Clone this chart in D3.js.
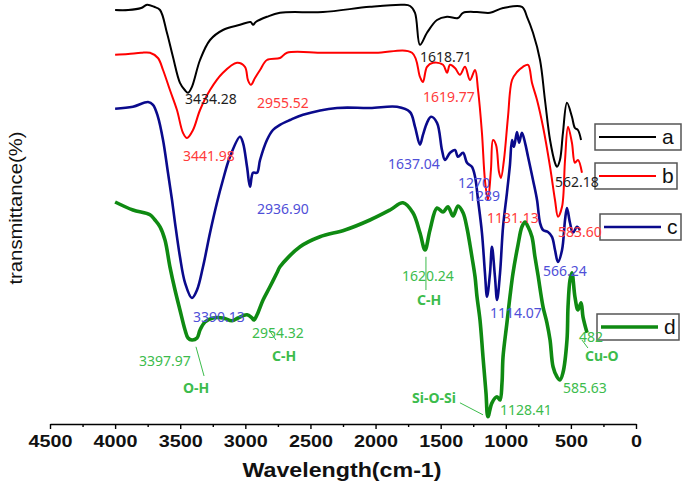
<!DOCTYPE html>
<html>
<head>
<meta charset="utf-8">
<script src="https://cdn.jsdelivr.net/npm/d3@7"></script>
<style>
  html, body { margin: 0; padding: 0; background: #fff; }
  svg { display: block; }
  .tick text { font-family: "Liberation Sans", Arial, sans-serif; font-size: 16px; font-weight: bold; fill: #111; }
  .axis path, .axis line { stroke: #000; stroke-width: 1.4px; }
  .peak { font-family: "Noto Sans", sans-serif; font-size: 14px; }
  .legend rect { fill: none; stroke: #555; stroke-width: 1.5px; }
  .legend text { font-family: "Liberation Sans", Arial, sans-serif; font-size: 21px; fill: #111; }
</style>
</head>
<body>
<svg id="chart" width="685" height="482"></svg>
<script>
// ---------- data: [wavenumber (cm-1), transmittance (a.u.)] ----------
const seriesNames = ["a", "b", "c", "d"];

const specA = [
  [4000,107.5],[3900,107.5],[3800,108],[3755,108.8],[3700,108.3],[3655,107.5],[3602,101.8],
  [3556,95.8],[3502,89.3],[3465,87.5],[3440,86.8],[3410,88.3],[3348,95],[3271,100],[3172,102.5],
  [3041,103.8],[2960,104.5],[2940,103.8],[2920,104.5],[2834,105.8],[2734,106.8],[2404,107],
  [2043,108.3],[1789,108.8],[1735,108.5],[1697,106.8],[1659,98.8],[1605,101.8],[1528,105],
  [1451,105.8],[1367,105.5],[1328,106.8],[1221,107],[1121,106.8],[1021,108],[876,108.3],
  [837,105.8],[791,101.8],[737,95],[699,85],[660,75],[622,69.3],[607,68.3],[584,70],[561,76.8],
  [530,84.3],[492,80.8],[469,78],[446,77.5],[422,75]
];

const specB = [
  [4000,96.3],[3900,96.5],[3800,96.8],[3732,96.8],[3671,95.5],[3632,92.5],[3579,87.5],[3525,82.5],
  [3479,76.8],[3448,75.5],[3402,77.5],[3348,82.5],[3271,87.5],[3172,91.8],[3064,94.3],[3003,93.3],
  [2980,90],[2957,88.8],[2926,90.5],[2887,92.5],[2834,95],[2734,95.5],[2680,96.8],[2400,96.8],
  [2000,96.8],[1720,96.8],[1659,90.8],[1636,89.5],[1605,93.3],[1559,94.3],[1482,93.8],[1451,91.8],
  [1428,93.8],[1390,93],[1352,91.3],[1313,93.3],[1275,90],[1236,92.5],[1213,87.5],[1183,76.8],
  [1160,65],[1137,60],[1114,67.5],[1098,75],[1075,73.8],[1052,67],[1037,65.5],[1014,70],[983,80.8],
  [952,90],[914,92],[868,93.3],[829,93.8],[799,89.3],[760,85],[714,78.3],[660,68.3],[622,60],
  [599,55.8],[568,58.3],[545,70],[522,78.3],[492,74.3],[469,69.3],[446,70],[415,66.8]
];

const specC = [
  [4000,82.8],[3863,83.3],[3747,84.5],[3709,83.8],[3671,80.8],[3632,75],[3594,66.8],[3563,60],
  [3540,54.3],[3502,45.8],[3463,39.3],[3410,35.5],[3371,37.5],[3325,43.3],[3271,51.8],[3218,59.3],
  [3172,65],[3118,70.8],[3041,75.8],[3018,74.3],[2987,68.3],[2964,63.3],[2941,66.8],[2910,66.8],
  [2887,70],[2834,75],[2788,77.5],[2734,78.8],[2657,80],[2557,81.3],[2296,83],[2043,83],[1835,83.3],
  [1736,82],[1697,78.3],[1659,73.8],[1636,76.3],[1605,79.3],[1574,80.8],[1528,79.3],[1490,72.5],
  [1467,70],[1428,71.8],[1390,72.5],[1367,70.8],[1328,71.8],[1298,69.3],[1260,68.3],[1236,65.8],
  [1213,60],[1183,51.8],[1160,41.8],[1144,35.8],[1121,41.8],[1106,48.3],[1083,40.8],[1067,35],
  [1044,41.8],[1021,53.3],[991,61.8],[968,68.8],[952,75],[937,73.3],[914,77],[898,74.3],[876,76.8],
  [852,74.3],[829,70.8],[791,65],[760,60],[737,54.3],[714,52.5],[676,52],[645,50.8],[622,47.5],
  [599,44.5],[568,47.5],[545,55],[530,58],[507,54.3],[484,51.8],[453,53.3],[430,52.5]
];

const specD = [
  [4000,59.5],[3863,57.5],[3732,56.3],[3694,55],[3655,53.3],[3617,50],[3579,43.3],[3540,37.5],
  [3502,32.5],[3463,27.5],[3440,25.5],[3410,25],[3371,25.5],[3348,27.5],[3310,29.5],[3248,30.5],
  [3172,30.5],[3102,29.8],[3056,30.5],[2987,31.3],[2949,30.5],[2933,30],[2910,31.3],[2864,35],
  [2811,38.3],[2757,41.8],[2734,43.3],[2580,48.3],[2427,50.8],[2235,52.5],[2043,55],[1889,57.5],
  [1789,59.3],[1713,56.8],[1659,51.8],[1620,47.5],[1582,52.5],[1528,58],[1482,57],[1444,58.3],
  [1405,56],[1367,58.5],[1328,56.8],[1298,53],[1275,48.8],[1260,45.8],[1236,40.8],[1221,35.8],
  [1198,30],[1175,20.8],[1152,11.8],[1137,5.8],[1106,9.3],[1067,10.8],[1044,10],[1029,14.3],
  [1021,20.8],[991,29.3],[968,35.8],[944,41.8],[906,48.8],[876,53.3],[852,54.5],[829,53.3],
  [799,50.8],[776,45.8],[753,41.3],[714,33.3],[684,29.3],[660,25],[637,18.3],[607,15.8],[584,15],
  [561,16.8],[530,25],[522,33.3],[507,40],[492,41.8],[469,35.8],[446,32.5],[422,34.3],[407,30.8],
  [376,26.8]
];

const xTicks = [4500, 4000, 3500, 3000, 2500, 2000, 1500, 1000, 500, 0];

// peak labels: [text, wavenumber, transmittance, series, bold]
const peakLabels = [
  ["3434.28", 3463, 84, "a"], ["1618.71", 1659, 94.5, "a"], ["562.18", 622, 63.3, "a"],
  ["2955.52", 2910, 83, "b"], ["3441.98", 3479, 69.8, "b"], ["1619.77", 1636, 84.5, "b"],
  ["1131.13", 1144, 54.3, "b"], ["583.60", 599, 50.8, "b"],
  ["2936.90", 2910, 56.5, "c"], ["1637.04", 1905, 67.8, "c"], ["1270", 1367, 63, "c"],
  ["1289", 1290, 59.8, "c"], ["3390.13", 3402, 29.5, "c"], ["1114.07", 1121, 30.5, "c"],
  ["566.24", 714, 41, "c"],
  ["3397.97", 3817, 18.5, "d"], ["O-H", 3479, 11.8, "d", true], ["2954.32", 2949, 25.5, "d"],
  ["C-H", 2795, 19.8, "d", true], ["1620.24", 1797, 39.8, "d"], ["C-H", 1682, 33.8, "d", true],
  ["Si-O-Si", 1720, 9.3, "d", true], ["1128.41", 1044, 6.3, "d"], ["585.63", 561, 11.8, "d"],
  ["482", 438, 24.5, "d"], ["Cu-O", 392, 19.8, "d", true]
];

// leader lines for group assignments: [w1, t1, w2, t2]
const leaders = [
  [3379, 23.3, 3317, 16], [2818, 27.5, 2765, 25], [1613, 45.8, 1613, 37.5],
  [1352, 9.3, 1175, 6.3], [415, 25, 369, 23]
];

// ---------- styling ----------
const lineColor = { a: "#000000", b: "#ff0000", c: "#0a0a8c", d: "#0f8a12" };
const labelColor = { a: "#1e1e1e", b: "#ff3b3b", c: "#4f4fd8", d: "#3cbc4c" };
const lineWidth = { a: 2, b: 2, c: 2.6, d: 3.6 };
const legendBoxes = [
  { k: "a", x: 595, y: 124, w: 86 },
  { k: "b", x: 595, y: 163, w: 82 },
  { k: "c", x: 600, y: 214, w: 81 },
  { k: "d", x: 597, y: 314, w: 82 }
];

const svg = d3.select("#chart");
const x = d3.scaleLinear().domain([4500, 0]).range([50, 636]);
const y = d3.scaleLinear().domain([0, 110]).range([440, 0]);

// ---------- curves ----------
const spectra = { a: specA, b: specB, c: specC, d: specD };
const line = d3.line()
  .x(d => x(d[0]))
  .y(d => y(d[1]))
  .curve(d3.curveCatmullRom.alpha(0.5));

seriesNames.forEach(k => {
  svg.append("path")
    .datum(spectra[k])
    .attr("fill", "none")
    .attr("stroke", lineColor[k])
    .attr("stroke-width", lineWidth[k])
    .attr("stroke-linejoin", "round")
    .attr("d", line);
});

// ---------- x axis ----------
const axisY = 424;
svg.append("g")
  .attr("class", "axis")
  .attr("transform", `translate(0,${axisY})`)
  .call(d3.axisBottom(x).tickValues(d3.range(250, 4500, 500)).tickSize(3).tickFormat(""))
  .call(g => g.select(".domain").remove());

const xAxis = svg.append("g")
  .attr("class", "axis")
  .attr("transform", `translate(0,${axisY})`)
  .call(d3.axisBottom(x).tickValues(xTicks).tickSize(5).tickSizeOuter(0).tickPadding(7).tickFormat(d3.format("d")));

xAxis.selectAll(".tick text")
  .attr("textLength", function () { return 11 * this.textContent.length; })
  .attr("lengthAdjust", "spacingAndGlyphs");

svg.append("text")
  .attr("x", 342)
  .attr("y", 477)
  .attr("text-anchor", "middle")
  .attr("textLength", 199)
  .attr("lengthAdjust", "spacingAndGlyphs")
  .style("font-family", "Liberation Sans, Arial, sans-serif")
  .style("font-size", "20px")
  .style("font-weight", "bold")
  .style("fill", "#111")
  .text("Wavelength(cm-1)");

svg.append("text")
  .attr("transform", "translate(22,208) rotate(-90)")
  .attr("text-anchor", "middle")
  .attr("textLength", 153)
  .attr("lengthAdjust", "spacingAndGlyphs")
  .style("font-family", "Liberation Sans, Arial, sans-serif")
  .style("font-size", "19px")
  .style("fill", "#111")
  .text("transmittance(%)");

// ---------- leader lines ----------
svg.append("g").selectAll("line")
  .data(leaders)
  .join("line")
  .attr("x1", d => x(d[0])).attr("y1", d => y(d[1]))
  .attr("x2", d => x(d[2])).attr("y2", d => y(d[3]))
  .attr("stroke", labelColor.d)
  .attr("stroke-width", 1);

// ---------- legend ----------
const legend = svg.append("g").attr("class", "legend");
legendBoxes.forEach(b => {
  legend.append("rect")
    .attr("x", b.x).attr("y", b.y)
    .attr("width", b.w).attr("height", 26);
  legend.append("line")
    .attr("x1", b.x + 4).attr("x2", b.x + 61)
    .attr("y1", b.y + 13).attr("y2", b.y + 13)
    .attr("stroke", lineColor[b.k])
    .attr("stroke-width", lineWidth[b.k]);
  legend.append("text")
    .attr("x", b.x + 67)
    .attr("y", b.y + 20)
    .text(b.k);
});

// ---------- peak labels ----------
svg.append("g").selectAll("text")
  .data(peakLabels)
  .join("text")
  .attr("class", "peak")
  .attr("x", d => x(d[1]))
  .attr("y", d => y(d[2]))
  .attr("fill", d => labelColor[d[3]])
  .style("font-weight", d => d[4] ? "bold" : "normal")
  .text(d => d[0]);
</script>
</body>
</html>
